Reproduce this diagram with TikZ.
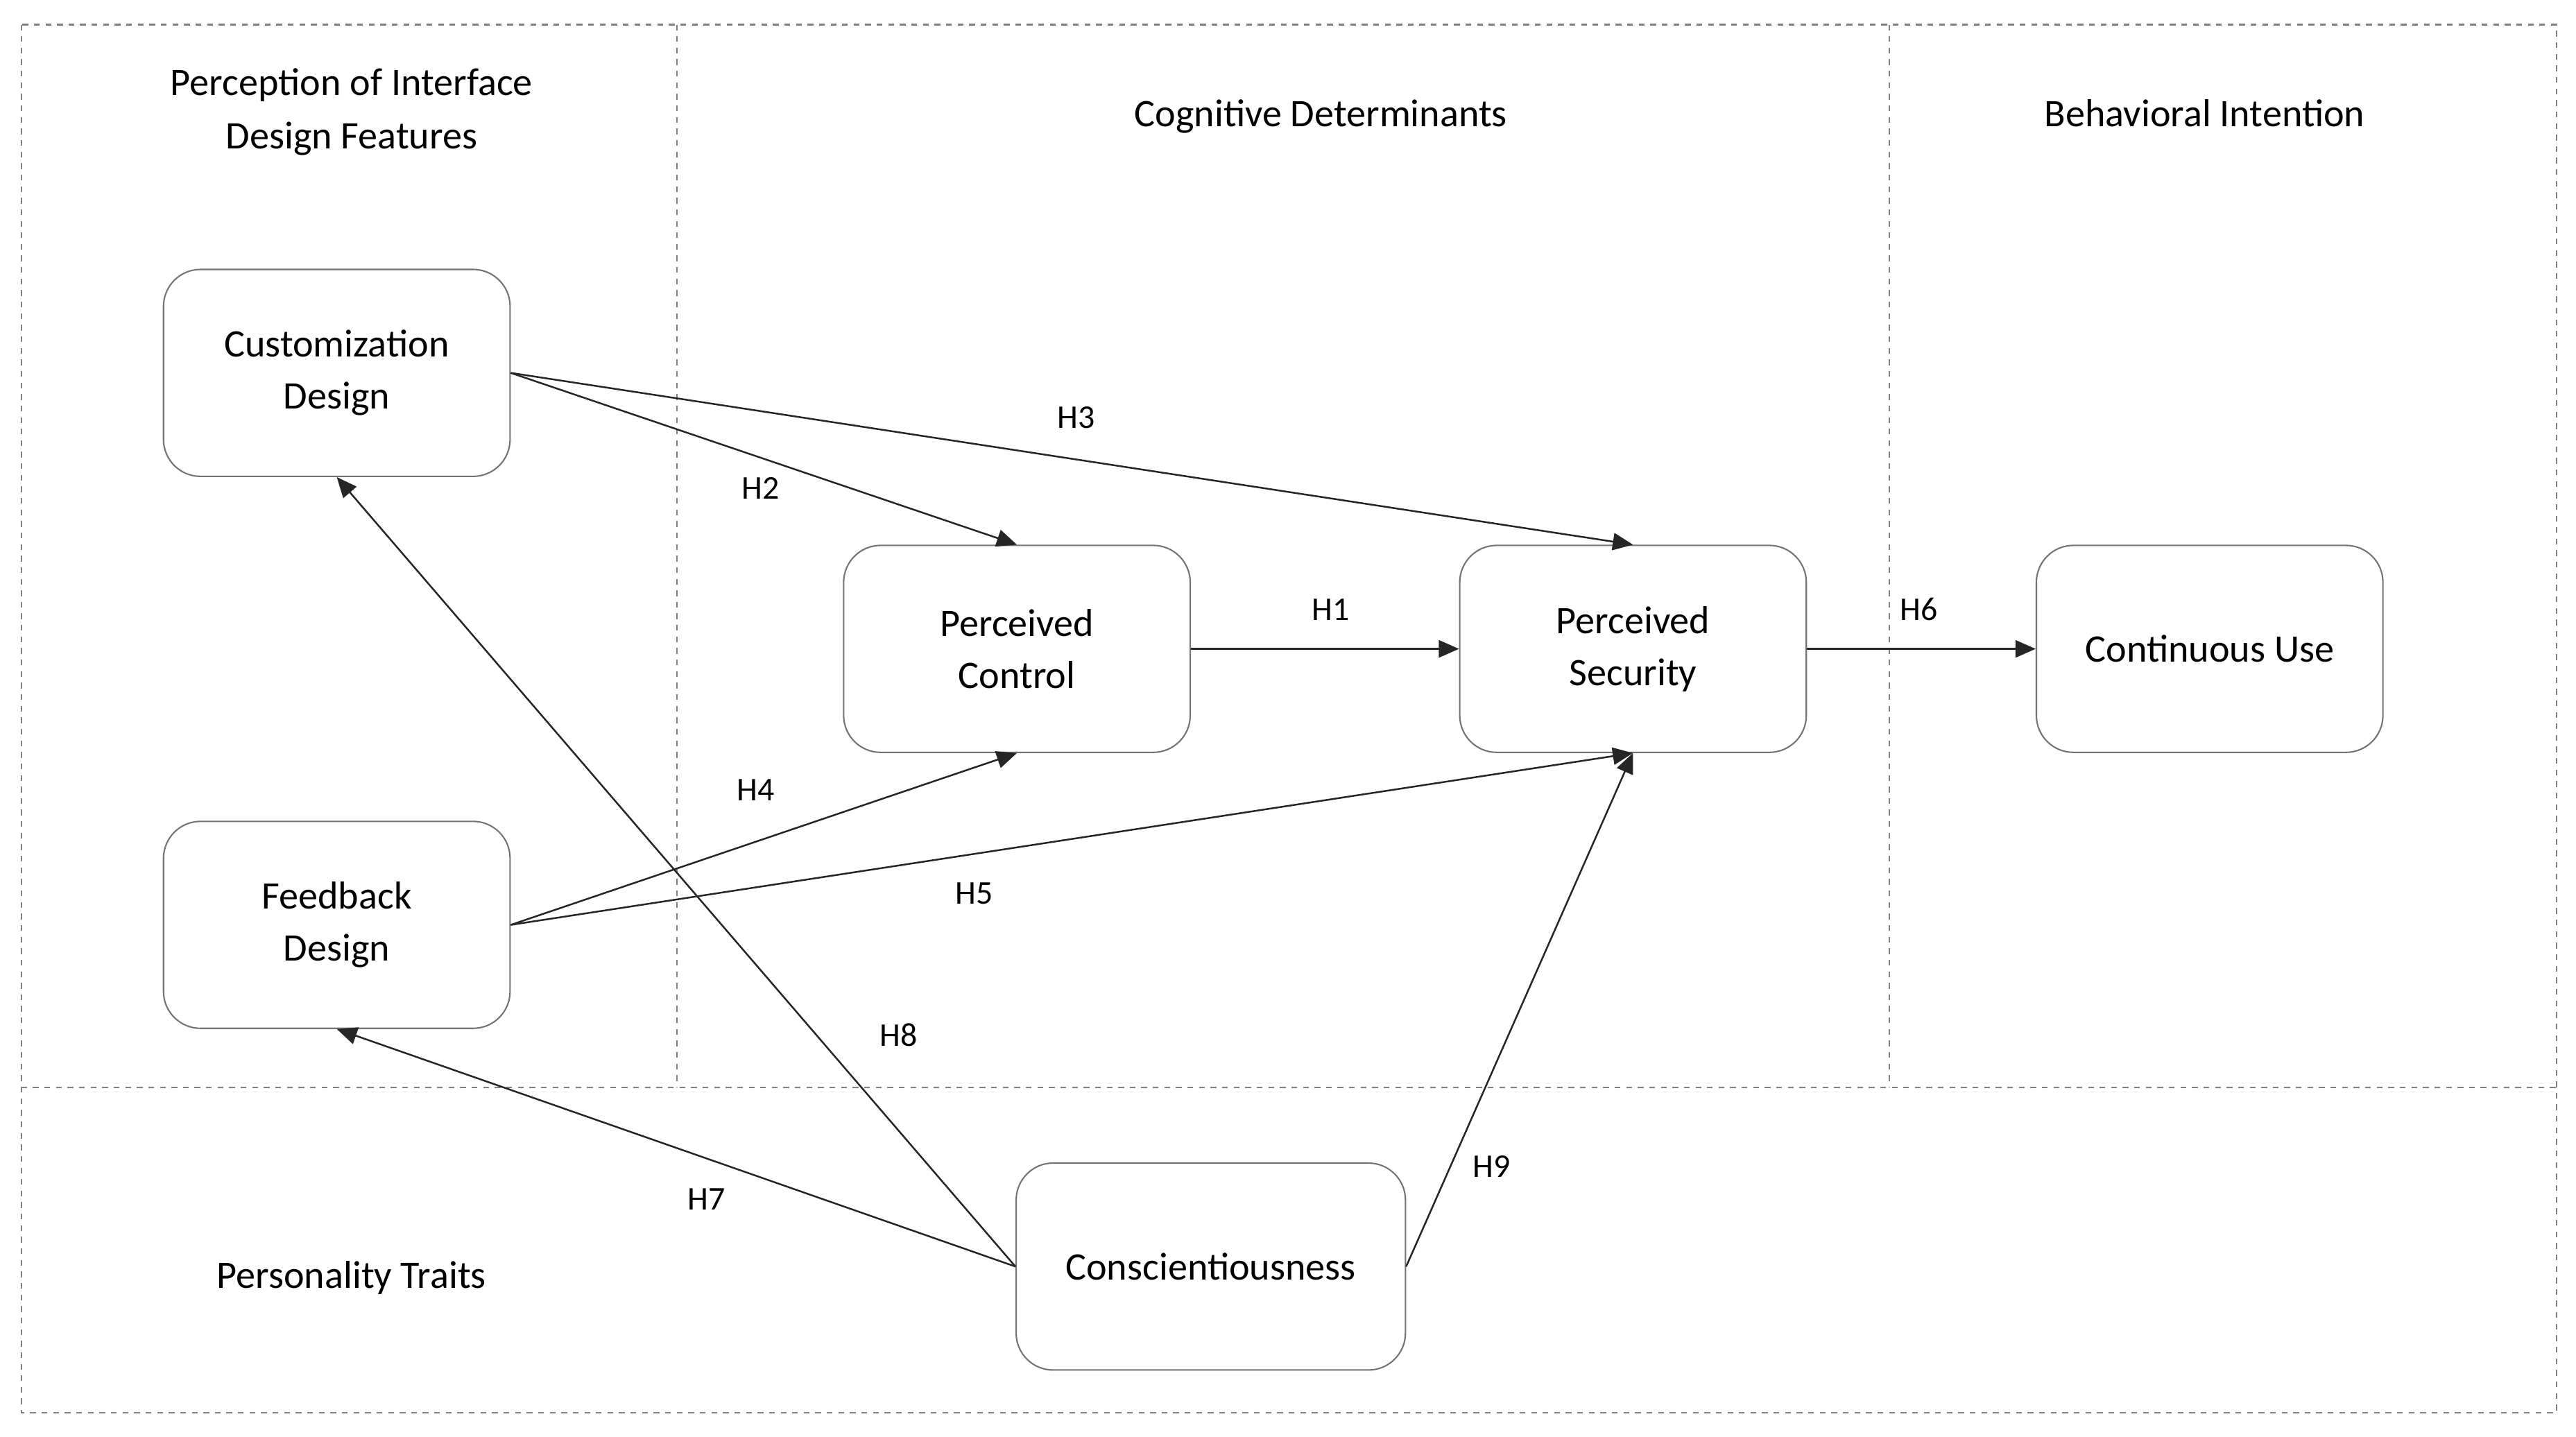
\documentclass[tikz,border=0pt]{standalone}
\usepackage{fontspec}
\setmainfont{Carlito}
\usetikzlibrary{arrows.meta}
\begin{document}
\begin{tikzpicture}[x=0.02cm,y=-0.02cm,
 box/.style={draw=black!55,rounded corners=0.45cm,minimum width=4.22cm,minimum height=2.52cm,align=center,font=\fontsize{13.5}{18}\selectfont,line width=0.5pt},
 ttl/.style={align=center,font=\fontsize{13.5}{18.5}\selectfont},
 lab/.style={font=\fontsize{11.5}{13}\selectfont},
 arr/.style={-{Triangle[length=7pt,width=6pt]},line width=0.6pt,black!85},
 dsh/.style={draw=black!50,dashed,dash pattern=on 2pt off 2pt,line width=0.5pt}]
\useasboundingbox (0,0) rectangle (1568,874.4);
\draw[dsh] (13,15) rectangle (1556,860);
\draw[dsh] (412,15) -- (412,662);
\draw[dsh] (1150,15) -- (1150,662);
\draw[dsh] (13,662) -- (1556,662);
\node[ttl] (t1) at (214,68) {Perception of Interface\\Design Features};
\node[ttl] (t2) at (804,71) {Cognitive Determinants};
\node[ttl] (t3) at (1342,69) {Behavioral Intention};
\node[ttl] (t4) at (214,778) {Personality Traits};
\node[box] (cd) at (205,227) {Customization\\Design};
\node[box] (fd) at (205,563) {Feedback\\Design};
\node[box] (pc) at (619,395) {Perceived\\Control};
\node[box] (ps) at (994,395) {Perceived\\Security};
\node[box] (cu) at (1345,395) {Continuous Use};
\node[box,minimum width=4.74cm] (co) at (737,771) {Conscientiousness};
\draw[arr] (cd.east) -- (pc.north);
\draw[arr] (cd.east) -- (ps.north);
\draw[arr] (pc.east) -- (ps.west);
\draw[arr] (ps.east) -- (cu.west);
\draw[arr] (fd.east) -- (pc.south);
\draw[arr] (fd.east) -- (ps.south);
\draw[arr] (co.west) -- (cd.south);
\draw[arr] (co.west) -- (fd.south);
\draw[arr] (co.east) -- (ps.south);
\node[lab] (h1) at (810,371) {H1};
\node[lab] (h2) at (463,297) {H2};
\node[lab] (h3) at (655,254) {H3};
\node[lab] (h4) at (460,481) {H4};
\node[lab] (h5) at (593,544) {H5};
\node[lab] (h6) at (1168,371) {H6};
\node[lab] (h7) at (430,730) {H7};
\node[lab] (h8) at (547,630) {H8};
\node[lab] (h9) at (908,710) {H9};
\end{tikzpicture}
\end{document}
